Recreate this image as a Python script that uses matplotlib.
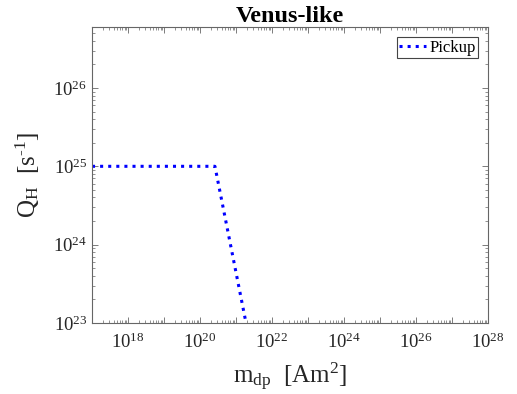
import math
import matplotlib.pyplot as plt
from matplotlib.ticker import LogLocator, FuncFormatter, NullFormatter

# Pickup curve
m_dp = [1e17, 2.6e20, 1.9e21]
q_pickup = [1e25, 1e25, 1e23]

x_limits = [1e17, 1e28]
y_limits = [1e23, 6e26]

plt.rcParams['font.family'] = ['Liberation Serif', 'DejaVu Serif']
plt.rcParams['mathtext.fontset'] = 'custom'
plt.rcParams['mathtext.rm'] = 'Liberation Serif'
plt.rcParams['mathtext.it'] = 'Liberation Serif:italic'
plt.rcParams['mathtext.bf'] = 'Liberation Serif:bold'

fig = plt.figure(figsize=(5.17, 3.94), dpi=100)
ax = fig.add_axes([92 / 517, 1 - 323 / 394, 396 / 517, 296 / 394])

ax.plot(m_dp, q_pickup, ':', color='#0000ff', linewidth=2.2, label='Pickup')

ax.set_xscale('log')
ax.set_yscale('log')
ax.set_xlim(x_limits)
ax.set_ylim(y_limits)

ax.xaxis.set_major_locator(LogLocator(base=10, subs=[1.0], numticks=20))
ax.xaxis.set_minor_locator(LogLocator(base=10, subs=range(2, 10), numticks=100))
ax.xaxis.set_minor_formatter(NullFormatter())


def x_fmt(v, pos):
    e = int(round(math.log10(v)))
    return r'$10^{%d}$' % e if e % 2 == 0 else ''


ax.xaxis.set_major_formatter(FuncFormatter(x_fmt))
ax.yaxis.set_major_locator(LogLocator(base=10, subs=[1.0], numticks=20))
ax.yaxis.set_minor_locator(LogLocator(base=10, subs=range(2, 10), numticks=100))
ax.yaxis.set_minor_formatter(NullFormatter())

ax.tick_params(which='both', direction='in', top=True, right=True,
               color='#666666', labelcolor='#262626', labelsize=13.5)
ax.tick_params(axis='x', which='major', pad=7)
ax.tick_params(which='major', length=4, width=0.6)
ax.tick_params(which='minor', length=2, width=0.5)
for s in ax.spines.values():
    s.set_color('#666666')
    s.set_linewidth(0.8)

ax.set_xlabel(r'm$_{\rm dp}$  [Am$^2$]', fontsize=18, color='#262626', labelpad=6)
ax.set_ylabel(r'Q$_{\rm H}$  [s$^{\text{-}1}$]', fontsize=18, color='#262626',
              labelpad=8)
ax.set_title('Venus-like', fontsize=17.5, fontweight='bold', pad=3)

leg = ax.legend(loc='upper right', fontsize=12, handlelength=1.6,
                handletextpad=0.2, borderpad=0.15, fancybox=False,
                framealpha=1, borderaxespad=0.6)
leg.get_frame().set_edgecolor('#444444')
leg.get_frame().set_linewidth(0.8)

fig.savefig('out.png', dpi=100)
